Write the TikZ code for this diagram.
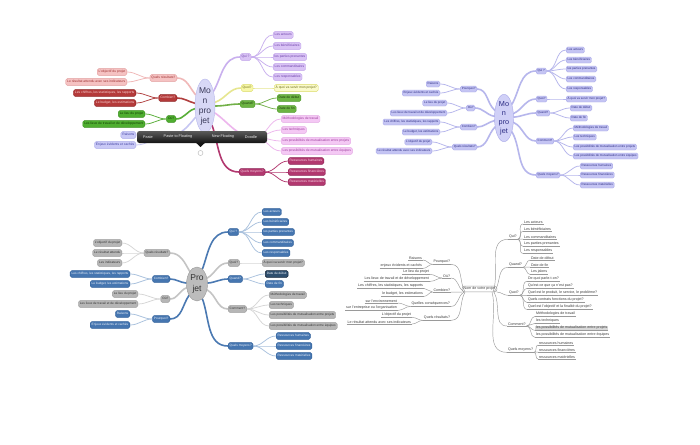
\documentclass[tikz,border=0pt]{standalone}
\usepackage{fontspec}
\setmainfont{Liberation Sans}
\usetikzlibrary{shapes.geometric}
\pgfdeclarelayer{bg}
\pgfdeclarelayer{paper}
\pgfsetlayers{paper,bg,main}
% map A colours
\definecolor{AcenF}{HTML}{D8D8F6}\definecolor{AcenD}{HTML}{B8B8EC}\definecolor{AcenT}{HTML}{3A3A5A}
\definecolor{AquiF}{HTML}{D9C3F5}\definecolor{AquiD}{HTML}{BFA0EA}\definecolor{AquiT}{HTML}{6B3FA8}\definecolor{AquiL}{HTML}{C9B0EE}
\definecolor{AquoiF}{HTML}{F7F7A8}\definecolor{AquoiD}{HTML}{DADA60}\definecolor{AquoiT}{HTML}{6A6A10}\definecolor{AquoiL}{HTML}{E6E690}
\definecolor{AquaF}{HTML}{6DB443}\definecolor{AquaD}{HTML}{4E9A2A}\definecolor{AquaT}{HTML}{17360A}\definecolor{AquaL}{HTML}{72B048}
\definecolor{AcomF}{HTML}{F4C8F4}\definecolor{AcomD}{HTML}{E3A6E3}\definecolor{AcomT}{HTML}{9A3C9A}\definecolor{AcomL}{HTML}{EDB6ED}
\definecolor{AmoyF}{HTML}{B2386F}\definecolor{AmoyD}{HTML}{8E2456}\definecolor{AmoyT}{HTML}{F9D6E6}\definecolor{AmoyL}{HTML}{B2386F}
\definecolor{AresF}{HTML}{F5C2C2}\definecolor{AresD}{HTML}{E29C9C}\definecolor{AresT}{HTML}{9C2F2F}\definecolor{AresL}{HTML}{F0B8B8}
\definecolor{AcoF}{HTML}{B43A3A}\definecolor{AcoD}{HTML}{8E2424}\definecolor{AcoT}{HTML}{F9D4D4}\definecolor{AcoL}{HTML}{B03E3E}
\definecolor{AouF}{HTML}{4FAE30}\definecolor{AouD}{HTML}{3A8E1E}\definecolor{AouT}{HTML}{123E06}\definecolor{AouL}{HTML}{58AE38}
\definecolor{ApqF}{HTML}{C9C9F6}\definecolor{ApqD}{HTML}{A9A9EA}\definecolor{ApqT}{HTML}{3E3E9E}\definecolor{ApqL}{HTML}{C6C6F2}
\definecolor{TBtop}{HTML}{5A5A5A}\definecolor{TBbot}{HTML}{141414}\definecolor{TBT}{HTML}{EDEDED}
% map B
\definecolor{BF}{HTML}{C4C4F3}\definecolor{BD}{HTML}{A8A8E8}\definecolor{BT}{HTML}{2C2C84}\definecolor{BL}{HTML}{B6B6EC}\definecolor{BcenF}{HTML}{D0D0F7}
% map C
\definecolor{CbF}{HTML}{4676B0}\definecolor{CbD}{HTML}{30609A}\definecolor{CbT}{HTML}{EEF3FB}\definecolor{CbL}{HTML}{4A79B2}\definecolor{CbLl}{HTML}{A9C1DD}
\definecolor{CgF}{HTML}{B6B6B6}\definecolor{CgD}{HTML}{9A9A9A}\definecolor{CgT}{HTML}{333333}\definecolor{CgL}{HTML}{C4C4C4}\definecolor{CgLl}{HTML}{D6D6D6}
\definecolor{CdF}{HTML}{2F4F6E}\definecolor{CdD}{HTML}{15263A}\definecolor{CcenF}{HTML}{BCBCBC}
% map D
\definecolor{DT}{HTML}{3C3C3C}\definecolor{DL}{HTML}{9A9A9A}\definecolor{DhF}{HTML}{D9D9D9}
\tikzset{
 bx/.style={rounded corners=1.5pt, inner xsep=1.5pt, inner ysep=0pt, text height=2.3pt, text depth=0.7pt, minimum height=6.8pt, line width=0.35pt},
 bxs/.style={rounded corners=1.4pt, inner xsep=1.4pt, inner ysep=0pt, text height=2.1pt, text depth=0.65pt, minimum height=6pt, line width=0.35pt},
 fa/.style={font=\fontsize{3.3}{4}\selectfont},
 fb/.style={font=\fontsize{3.0}{3.6}\selectfont},
 fc/.style={font=\fontsize{3.15}{3.8}\selectfont},
 fd/.style={font=\fontsize{3.6}{4.2}\selectfont},
 aqui/.style={bx,fa,fill=AquiF,draw=AquiD,text=AquiT},
 aquoi/.style={bx,fa,fill=AquoiF,draw=AquoiD,text=AquoiT},
 aqua/.style={bx,fa,fill=AquaF,draw=AquaD,text=AquaT},
 acom/.style={bx,fa,fill=AcomF,draw=AcomD,text=AcomT},
 amoy/.style={bx,fa,fill=AmoyF,draw=AmoyD,text=AmoyT},
 ares/.style={bx,fa,fill=AresF,draw=AresD,text=AresT},
 aco/.style={bx,fa,fill=AcoF,draw=AcoD,text=AcoT},
 aou/.style={bx,fa,fill=AouF,draw=AouD,text=AouT},
 apq/.style={bx,fa,fill=ApqF,draw=ApqD,text=ApqT},
 bn/.style={bxs,fb,fill=BF,draw=BD,text=BT},
 cb/.style={bx,fc,fill=CbF,draw=CbD,text=CbT},
 cg/.style={bx,fc,fill=CgF,draw=CgD,text=CgT},
 cdk/.style={bx,fc,fill=CdF,draw=CdD,text=CbT,line width=0.6pt},
 dn/.style={fd,text=DT,inner xsep=0.8pt,inner ysep=0.5pt},
 thk/.style={line width=1.6pt, line cap=round},
 thn/.style={line width=0.75pt},
 dl/.style={draw=DL, line width=0.45pt},
 tbt/.style={font=\fontsize{3.8}{4.5}\selectfont, text=TBT, inner sep=0pt},
 centre/.style={ellipse, inner sep=0pt, align=center, line width=0.4pt},
}
\begin{document}
\begin{tikzpicture}[x=1pt,y=1pt]
\begin{pgfonlayer}{paper}
\fill[white] (0,0) rectangle (700,-444);
\end{pgfonlayer}
\useasboundingbox (0,0) rectangle (700,-444);

%================ MAP A (top left) =================
\node[centre, fill=AcenF, draw=AcenD, text=AcenT, minimum width=20pt, minimum height=54pt, font=\fontsize{8.5}{10}\selectfont] (A) at (205,-106) {Mo\\n\\pro\\jet};
\node[ares, anchor=east] (Ar) at (177,-78) {Quels résultats?};
\node[aco, anchor=east] (Ac) at (177,-98) {Combien?};
\node[aou, anchor=east] (Ao) at (176,-119) {Où?};
\coordinate (Ap) at (165,-137);
\node[ares, anchor=east] (Ar1) at (127,-72) {L'objectif du projet};
\node[ares, anchor=east] (Ar2) at (127,-82) {Le résultat attendu avec ses indicateurs};
\node[aco, anchor=east] (Ac1) at (136,-93) {Les chiffres, les statistiques, les rapports};
\node[aco, anchor=east] (Ac2) at (136,-103) {Le budget, les estimations};
\node[aou, anchor=east] (Ao1) at (145,-114) {Le lieu du projet};
\node[aou, anchor=east] (Ao2) at (145,-124) {Les lieux de travail et de développement};
\node[apq, anchor=east] (Ap1) at (136,-135) {Raisons};
\node[apq, anchor=east] (Ap2) at (136,-145) {Enjeux évidents et cachés};
\node[aqui, anchor=west] (Aq) at (240,-57) {Qui ?};
\node[aquoi, anchor=west] (Aw) at (241,-88) {Quoi?};
\node[aqua, anchor=west] (Ad) at (240,-104) {Quand?};
\coordinate (Am) at (255,-137);
\node[amoy, anchor=west] (Ay) at (239,-172) {Quels moyens?};
\node[aqui, anchor=west] (Aq1) at (273,-35) {Les acteurs};
\node[aqui, anchor=west] (Aq2) at (273,-46) {Les bénéficiaires};
\node[aqui, anchor=west] (Aq3) at (273,-57) {les parties prenantes};
\node[aqui, anchor=west] (Aq4) at (273,-67) {Les commanditaires};
\node[aqui, anchor=west] (Aq5) at (273,-77) {Les responsables};
\node[aquoi, anchor=west, fill=AquoiF!60] (Aw1) at (274,-88) {À quoi va servir mon projet?};
\node[aqua, anchor=west] (Ad1) at (277,-98) {Date de début};
\node[aqua, anchor=west] (Ad2) at (277,-109) {Date de fin};
\node[acom, anchor=west] (Am1) at (281,-119) {Méthodologies de travail};
\node[acom, anchor=west] (Am2) at (281,-130) {Les techniques};
\node[acom, anchor=west] (Am3) at (281,-141) {Les possibilités de mutualisation entre projets};
\node[acom, anchor=west] (Am4) at (281,-151) {Les possibilités de mutualisation entre équipes};
\node[amoy, anchor=west] (Ay1) at (288,-161) {Ressources humaines};
\node[amoy, anchor=west] (Ay2) at (288,-172) {Ressources financières};
\node[amoy, anchor=west] (Ay3) at (288,-182) {Ressources matérielles};
\begin{pgfonlayer}{bg}
\draw[thk,draw=AresL] (A) to[out=130,in=0] (Ar.east);
\draw[thk,draw=AcoL] (A) to[out=165,in=0] (Ac.east);
\draw[thk,draw=AouL] (A) to[out=195,in=0] (Ao.east);
\draw[thk,draw=ApqL] (A) to[out=230,in=0] (Ap);
\draw[thk,draw=AquiL] (A) to[out=60,in=180] (Aq.west);
\draw[thk,draw=AquoiL] (A) to[out=20,in=180] (Aw.west);
\draw[thk,draw=AquaL] (A) to[out=0,in=180] (Ad.west);
\draw[thk,draw=AcomL] (A) to[out=-35,in=180] (Am);
\draw[thk,draw=AmoyL] (A) to[out=-70,in=180] (Ay.west);
\foreach \c in {Ar1,Ar2} \draw[thn,draw=AresL] (Ar.west) to[out=180,in=0] (\c.east);
\foreach \c in {Ac1,Ac2} \draw[thn,draw=AcoL] (Ac.west) to[out=180,in=0] (\c.east);
\foreach \c in {Ao1,Ao2} \draw[thn,draw=AouL] (Ao.west) to[out=180,in=0] (\c.east);
\foreach \c in {Ap1,Ap2} \draw[thn,draw=ApqL] (Ap) to[out=180,in=0] (\c.east);
\foreach \c in {Aq1,Aq2,Aq3,Aq4,Aq5} \draw[thn,draw=AquiL] (Aq.east) to[out=0,in=180] (\c.west);
\foreach \c in {Aw1} \draw[thn,draw=AquoiL] (Aw.east) to[out=0,in=180] (\c.west);
\foreach \c in {Ad1,Ad2} \draw[thn,draw=AquaL] (Ad.east) to[out=0,in=180] (\c.west);
\foreach \c in {Am1,Am2,Am3,Am4} \draw[thn,draw=AcomL] (Am) to[out=0,in=180] (\c.west);
\foreach \c in {Ay1,Ay2,Ay3} \draw[thn,draw=AmoyL] (Ay.east) to[out=0,in=180] (\c.west);
\end{pgfonlayer}
% toolbar
\node[top color=TBtop, bottom color=TBbot, rounded corners=2.5pt, minimum width=130pt, minimum height=12pt, inner sep=0pt] (tb) at (202,-137) {};
\fill[TBbot] (196,-142.8) -- (205,-142.8) -- (200.5,-147) -- cycle;
\node[tbt] (tb1) at (148,-137) {Paste};
\node[tbt] (tb2) at (178,-137) {Paste to Floating};
\node[tbt] (tb3) at (223,-137) {New Floating};
\node[tbt] (tb4) at (251,-137) {Doodle};
\node[circle, draw=gray!60, line width=0.4pt, minimum size=5pt, inner sep=0pt] (knob) at (200.5,-153) {};

%================ MAP B (top right) =================
\node[centre, fill=BcenF, draw=BD, text=BT, minimum width=19pt, minimum height=46pt, font=\fontsize{7.3}{9}\selectfont] (B) at (504,-118) {Mo\\n\\pro\\jet};
\node[bn, anchor=east] (Bp) at (477,-89) {Pourquoi?};
\node[bn, anchor=east] (Bo) at (475,-108) {Où?};
\node[bn, anchor=east] (Bc) at (477,-127) {Combien?};
\node[bn, anchor=east] (Br) at (477,-147) {Quels résultats?};
\node[bn, anchor=east] (Bp1) at (440,-84) {Raisons};
\node[bn, anchor=east] (Bp2) at (440,-93) {Enjeux évidents et cachés};
\node[bn, anchor=east] (Bo1) at (447,-103) {Le lieu du projet};
\node[bn, anchor=east] (Bo2) at (447,-113) {Les lieux de travail et de développement};
\node[bn, anchor=east] (Bc1) at (440,-122) {Les chiffres, les statistiques, les rapports};
\node[bn, anchor=east] (Bc2) at (440,-132) {Le budget, les estimations};
\node[bn, anchor=east] (Br1) at (432,-142) {L'objectif du projet};
\node[bn, anchor=east] (Br2) at (432,-151) {Le résultat attendu avec ses indicateurs};
\node[bn, anchor=west] (Bq) at (536,-71) {Qui ?};
\node[bn, anchor=west] (Bw) at (536,-99) {Quoi?};
\node[bn, anchor=west] (Bd) at (536,-113) {Quand?};
\node[bn, anchor=west] (Bm) at (536,-141) {Comment?};
\node[bn, anchor=west] (By) at (536,-175) {Quels moyens?};
\node[bn, anchor=west] (Bq1) at (566,-50) {Les acteurs};
\node[bn, anchor=west] (Bq2) at (566,-60) {Les bénéficiaires};
\node[bn, anchor=west] (Bq3) at (566,-69) {les parties prenantes};
\node[bn, anchor=west] (Bq4) at (566,-79) {Les commanditaires};
\node[bn, anchor=west] (Bq5) at (566,-89) {Les responsables};
\node[bn, anchor=west] (Bw1) at (566,-99) {À quoi va servir mon projet?};
\node[bn, anchor=west] (Bd1) at (570,-108) {Date de début};
\node[bn, anchor=west] (Bd2) at (570,-118) {Date de fin};
\node[bn, anchor=west] (Bm1) at (573,-128) {Méthodologies de travail};
\node[bn, anchor=west] (Bm2) at (573,-137) {Les techniques};
\node[bn, anchor=west] (Bm3) at (573,-147) {Les possibilités de mutualisation entre projets};
\node[bn, anchor=west] (Bm4) at (573,-156) {Les possibilités de mutualisation entre équipes};
\node[bn, anchor=west] (By1) at (580,-166) {Ressources humaines};
\node[bn, anchor=west] (By2) at (580,-175) {Ressources financières};
\node[bn, anchor=west] (By3) at (580,-185) {Ressources matérielles};
\begin{pgfonlayer}{bg}
\draw[thk,draw=BL] (B) to[out=140,in=0] (Bp.east);
\draw[thk,draw=BL] (B) to[out=170,in=0] (Bo.east);
\draw[thk,draw=BL] (B) to[out=195,in=0] (Bc.east);
\draw[thk,draw=BL] (B) to[out=225,in=0] (Br.east);
\draw[thk,draw=BL] (B) to[out=60,in=180] (Bq.west);
\draw[thk,draw=BL] (B) to[out=25,in=180] (Bw.west);
\draw[thk,draw=BL] (B) to[out=5,in=180] (Bd.west);
\draw[thk,draw=BL] (B) to[out=-25,in=180] (Bm.west);
\draw[thk,draw=BL] (B) to[out=-60,in=180] (By.west);
\foreach \c in {Bp1,Bp2} \draw[thn,draw=BL] (Bp.west) to[out=180,in=0] (\c.east);
\foreach \c in {Bo1,Bo2} \draw[thn,draw=BL] (Bo.west) to[out=180,in=0] (\c.east);
\foreach \c in {Bc1,Bc2} \draw[thn,draw=BL] (Bc.west) to[out=180,in=0] (\c.east);
\foreach \c in {Br1,Br2} \draw[thn,draw=BL] (Br.west) to[out=180,in=0] (\c.east);
\foreach \c in {Bq1,Bq2,Bq3,Bq4,Bq5} \draw[thn,draw=BL] (Bq.east) to[out=0,in=180] (\c.west);
\foreach \c in {Bw1} \draw[thn,draw=BL] (Bw.east) to[out=0,in=180] (\c.west);
\foreach \c in {Bd1,Bd2} \draw[thn,draw=BL] (Bd.east) to[out=0,in=180] (\c.west);
\foreach \c in {Bm1,Bm2,Bm3,Bm4} \draw[thn,draw=BL] (Bm.east) to[out=0,in=180] (\c.west);
\foreach \c in {By1,By2,By3} \draw[thn,draw=BL] (By.east) to[out=0,in=180] (\c.west);
\end{pgfonlayer}

%================ MAP C (bottom left) =================
\node[centre, fill=CcenF, draw=CgD, text=CgT, minimum width=21pt, minimum height=34pt, font=\fontsize{8.5}{11}\selectfont] (C) at (197,-284) {Pro\\jet};
\node[cg, anchor=east] (Cr) at (170,-253) {Quels résultats?};
\node[cb, anchor=east] (Cc) at (170,-279) {Combien?};
\node[cg, anchor=east] (Co) at (170,-299) {Où?};
\node[cb, anchor=east] (Cp) at (170,-319) {Pourquoi?};
\node[cg, anchor=east] (Cr1) at (122,-243) {L'objectif du projet};
\node[cg, anchor=east] (Cr2) at (122,-253) {Le résultat attendu};
\node[cg, anchor=east] (Cr3) at (122,-263) {Les indicateurs};
\node[cb, anchor=east] (Cc1) at (130,-274) {Les chiffres, les statistiques, les rapports};
\node[cb, anchor=east] (Cc2) at (130,-284) {Le budget, les estimations};
\node[cg, anchor=east] (Co1) at (138,-294) {Le lieu du projet};
\node[cg, anchor=east] (Co2) at (138,-304) {Les lieux de travail et de développement};
\node[cb, anchor=east] (Cp1) at (130,-314) {Raisons};
\node[cb, anchor=east] (Cp2) at (130,-325) {Enjeux évidents et cachés};
\node[cb, anchor=west] (Cq) at (228,-232) {Qui ?};
\node[cg, anchor=west] (Cw) at (228,-263) {Quoi?};
\node[cb, anchor=west] (Cd) at (228,-279) {Quand?};
\node[cg, anchor=west] (Cm) at (228,-309) {Comment?};
\node[cb, anchor=west] (Cy) at (228,-346) {Quels moyens?};
\node[cb, anchor=west] (Cq1) at (262,-212) {Les acteurs};
\node[cb, anchor=west] (Cq2) at (262,-222) {Les bénéficiaires};
\node[cb, anchor=west] (Cq3) at (262,-232) {les parties prenantes};
\node[cb, anchor=west] (Cq4) at (262,-243) {Les commanditaires};
\node[cb, anchor=west] (Cq5) at (262,-253) {Les responsables};
\node[cg, anchor=west] (Cw1) at (262,-263) {À quoi va servir mon projet?};
\node[cdk, anchor=west] (Cd1) at (265,-274) {Date de début};
\node[cb, anchor=west] (Cd2) at (265,-284) {Date de fin};
\node[cg, anchor=west] (Cm1) at (269,-295) {Méthodologies de travail};
\node[cg, anchor=west] (Cm2) at (269,-305) {Les techniques};
\node[cg, anchor=west] (Cm3) at (269,-315) {Les possibilités de mutualisation entre projets};
\node[cg, anchor=west] (Cm4) at (269,-326) {Les possibilités de mutualisation entre équipes};
\node[cb, anchor=west] (Cy1) at (276,-336) {Ressources humaines};
\node[cb, anchor=west] (Cy2) at (276,-346) {Ressources financières};
\node[cb, anchor=west] (Cy3) at (276,-356) {Ressources matérielles};
\begin{pgfonlayer}{bg}
\draw[thk,draw=CgL] (C) to[out=120,in=0] (Cr.east);
\draw[thk,draw=CbL] (C) to[out=175,in=0] (Cc.east);
\draw[thk,draw=CgL] (C) to[out=200,in=0] (Co.east);
\draw[thk,draw=CbL] (C) to[out=235,in=0] (Cp.east);
\draw[thk,draw=CbL] (C) to[out=70,in=180] (Cq.west);
\draw[thk,draw=CgL] (C) to[out=30,in=180] (Cw.west);
\draw[thk,draw=CbL] (C) to[out=5,in=180] (Cd.west);
\draw[thk,draw=CgL] (C) to[out=-30,in=180] (Cm.west);
\draw[thk,draw=CbL] (C) to[out=-70,in=180] (Cy.west);
\foreach \c in {Cr1,Cr2,Cr3} \draw[thn,draw=CgLl] (Cr.west) to[out=180,in=0] (\c.east);
\foreach \c in {Cc1,Cc2} \draw[thn,draw=CbLl] (Cc.west) to[out=180,in=0] (\c.east);
\foreach \c in {Co1,Co2} \draw[thn,draw=CgLl] (Co.west) to[out=180,in=0] (\c.east);
\foreach \c in {Cp1,Cp2} \draw[thn,draw=CbLl] (Cp.west) to[out=180,in=0] (\c.east);
\foreach \c in {Cq1,Cq2,Cq3,Cq4,Cq5} \draw[thn,draw=CbLl] (Cq.east) to[out=0,in=180] (\c.west);
\foreach \c in {Cw1} \draw[thn,draw=CgLl] (Cw.east) to[out=0,in=180] (\c.west);
\foreach \c in {Cd1,Cd2} \draw[thn,draw=CbLl] (Cd.east) to[out=0,in=180] (\c.west);
\foreach \c in {Cm1,Cm2,Cm3,Cm4} \draw[thn,draw=CgLl] (Cm.east) to[out=0,in=180] (\c.west);
\foreach \c in {Cy1,Cy2,Cy3} \draw[thn,draw=CbLl] (Cy.east) to[out=0,in=180] (\c.west);
\end{pgfonlayer}

%================ MAP D (bottom right) =================
\node[dn, draw=DL, rounded corners=2pt, line width=0.4pt, inner xsep=1.5pt, inner ysep=1.2pt] (D) at (479.5,-289) {Nom de votre projet};
\node[dn, anchor=east] (Dp) at (451,-262) {Pourquoi?};
\node[dn, anchor=east] (Do) at (451,-276) {Où?};
\node[dn, anchor=east] (Dc) at (451,-290) {Combien?};
\node[dn, anchor=east] (Dq) at (451,-304) {Quelles conséquences?};
\node[dn, anchor=east] (Dr) at (451,-318) {Quels résultats?};
\node[dn, anchor=east] (Dp1) at (423,-258) {Raisons};
\node[dn, anchor=east] (Dp2) at (423,-266) {enjeux évidents et cachés};
\node[dn, anchor=east] (Do1) at (430,-272) {Le lieu du projet};
\node[dn, anchor=east] (Do2) at (430,-279) {Les lieux de travail et de développement};
\node[dn, anchor=east] (Dc1) at (424,-286) {Les chiffres, les statistiques, les rapports};
\node[dn, anchor=east] (Dc2) at (424,-294) {le budget, les estimations};
\node[dn, anchor=east] (Dq1) at (398,-301) {sur l'environnement};
\node[dn, anchor=east] (Dq2) at (398,-308) {sur l'entreprise ou l'organisation};
\node[dn, anchor=east] (Dr1) at (412,-315) {L'objectif du projet};
\node[dn, anchor=east] (Dr2) at (412,-322) {Le résultat attendu avec ses indicateurs};
\node[dn, anchor=west] (Dk) at (508,-237) {Qui?};
\node[dn, anchor=west] (Dd) at (508,-265) {Quand?};
\node[dn, anchor=west] (Dw) at (508,-293) {Quoi?};
\node[dn, anchor=west] (Dm) at (507,-324) {Comment?};
\node[dn, anchor=west] (Dy) at (507,-350) {Quels moyens?};
\node[dn, anchor=west] (Dk1) at (523,-222) {Les acteurs};
\node[dn, anchor=west] (Dk2) at (523,-229) {Les bénéficiaires};
\node[dn, anchor=west] (Dk3) at (523,-237) {Les commanditaires};
\node[dn, anchor=west] (Dk4) at (523,-244) {Les parties prenantes};
\node[dn, anchor=west] (Dk5) at (523,-251) {Les responsables};
\node[dn, anchor=west] (Dd1) at (530,-258) {Date de début};
\node[dn, anchor=west] (Dd2) at (530,-265) {Date de fin};
\node[dn, anchor=west] (Dd3) at (530,-272) {Les jalons};
\node[dn, anchor=west] (Dw1) at (527,-279) {De quoi parle-t-on?};
\node[dn, anchor=west] (Dw2) at (527,-286) {Qu'est-ce que ça n'est pas?};
\node[dn, anchor=west] (Dw3) at (527,-293) {Quel est le produit, le service, le problème?};
\node[dn, anchor=west] (Dw4) at (527,-300) {Quels contrats fonctions du projet?};
\node[dn, anchor=west] (Dw5) at (527,-307) {Quel est l'objectif et la finalité du projet?};
\node[dn, anchor=west] (Dm1) at (535,-314) {Méthodologies de travail};
\node[dn, anchor=west] (Dm2) at (535,-321) {les techniques};
\node[dn, anchor=west, fill=DhF] (Dm3) at (535,-328) {les possibilités de mutualisation entre projets};
\node[dn, anchor=west] (Dm4) at (535,-335) {les possibilités de mutualisation entre équipes};
\node[dn, anchor=west] (Dy1) at (538,-343) {ressources humaines};
\node[dn, anchor=west] (Dy2) at (538,-350) {ressources financières};
\node[dn, anchor=west] (Dy3) at (538,-357) {ressources matérielles};
\begin{pgfonlayer}{bg}
\foreach \n in {Dp,Do,Dc,Dq,Dr,Dp1,Dp2,Do1,Do2,Dc1,Dc2,Dq1,Dq2,Dr1,Dr2,Dk,Dd,Dw,Dm,Dy,Dk1,Dk2,Dk3,Dk4,Dk5,Dd1,Dd2,Dd3,Dw1,Dw2,Dw3,Dw4,Dw5,Dm1,Dm2,Dm3,Dm4,Dy1,Dy2,Dy3}
  \draw[dl] (\n.south west) -- (\n.south east);
\draw[dl] ([xshift=3pt]D.south west) to[out=120,in=0] (Dp.south east);
\draw[dl] ([xshift=2pt]D.south west) to[out=150,in=0] (Do.south east);
\draw[dl] (D.south west) to[out=180,in=0] (Dc.south east);
\draw[dl] ([xshift=2pt]D.south west) to[out=210,in=0] (Dq.south east);
\draw[dl] ([xshift=3pt]D.south west) to[out=240,in=0] (Dr.south east);
\draw[dl] ([xshift=-4pt]D.south east) to[out=70,in=180] (Dk.south west);
\draw[dl] ([xshift=-3pt]D.south east) to[out=50,in=180] (Dd.south west);
\draw[dl] (D.south east) to[out=0,in=180] (Dw.south west);
\draw[dl] ([xshift=-3pt]D.south east) to[out=-60,in=180] (Dm.south west);
\draw[dl] ([xshift=-5pt]D.south east) to[out=-75,in=180] (Dy.south west);
\foreach \c in {Dp1,Dp2} \draw[dl] (Dp.south west) to[out=180,in=0] (\c.south east);
\foreach \c in {Do1,Do2} \draw[dl] (Do.south west) to[out=180,in=0] (\c.south east);
\foreach \c in {Dc1,Dc2} \draw[dl] (Dc.south west) to[out=180,in=0] (\c.south east);
\foreach \c in {Dq1,Dq2} \draw[dl] (Dq.south west) to[out=180,in=0] (\c.south east);
\foreach \c in {Dr1,Dr2} \draw[dl] (Dr.south west) to[out=180,in=0] (\c.south east);
\foreach \c in {Dk1,Dk2,Dk3,Dk4,Dk5} \draw[dl] (Dk.south east) to[out=0,in=180] (\c.south west);
\foreach \c in {Dd1,Dd2,Dd3} \draw[dl] (Dd.south east) to[out=0,in=180] (\c.south west);
\foreach \c in {Dw1,Dw2,Dw3,Dw4,Dw5} \draw[dl] (Dw.south east) to[out=0,in=180] (\c.south west);
\foreach \c in {Dm1,Dm2,Dm3,Dm4} \draw[dl] (Dm.south east) to[out=0,in=180] (\c.south west);
\foreach \c in {Dy1,Dy2,Dy3} \draw[dl] (Dy.south east) to[out=0,in=180] (\c.south west);
\end{pgfonlayer}
\end{tikzpicture}
\end{document}
